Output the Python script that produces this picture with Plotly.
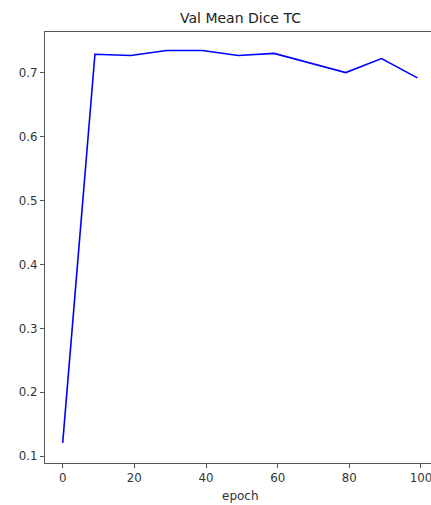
import plotly.graph_objects as go

# Validation mean Dice (TC) recorded every 10 epochs
epochs = [0, 9, 19, 29, 39, 49, 59, 69, 79, 89, 99]
dice_tc = [0.121, 0.7286, 0.7266, 0.7344, 0.7344, 0.7266, 0.7300, 0.7150, 0.7000, 0.7219, 0.6916]

x_ticks = [0, 20, 40, 60, 80, 100]
y_ticks = [0.1, 0.2, 0.3, 0.4, 0.5, 0.6, 0.7]

W, H = 431, 505
ML, MR, MT, MB = 45, 0, 32, 42
font = "DejaVu Sans"
axis_col = "#555555"
text_col = "#333333"

fig = go.Figure(
    go.Scatter(
        x=epochs, y=dice_tc, mode="lines",
        line=dict(color="#0000ff", width=1.6),
        hoverinfo="skip",
    )
)

fig.update_layout(
    width=W, height=H,
    margin=dict(l=ML, r=MR, t=MT, b=MB),
    paper_bgcolor="white", plot_bgcolor="white",
    showlegend=False,
    font=dict(family=font, size=12, color=text_col),
)

fig.update_xaxes(
    range=[-4.94, 102.8],
    tickvals=x_ticks, ticktext=[str(v) for v in x_ticks],
    showgrid=False, zeroline=False,
    showline=True, linecolor=axis_col, linewidth=1.2, mirror=True,
    ticks="outside", ticklen=4, tickcolor=axis_col, tickwidth=1,
    tickfont=dict(family=font, size=11.8, color=text_col),
    ticklabeloverflow="allow",
)
fig.update_yaxes(
    range=[0.0895, 0.7634],
    tickvals=y_ticks, ticktext=[f"{v:.1f}" for v in y_ticks],
    showgrid=False, zeroline=False,
    showline=True, linecolor=axis_col, linewidth=1.2, mirror=False,
    ticks="outside", ticklen=4, tickcolor=axis_col, tickwidth=1,
    tickfont=dict(family=font, size=11.8, color=text_col),
)

plot_w = W - ML - MR
title_x = (240 - ML) / plot_w

fig.add_annotation(
    text="Val Mean Dice TC", xref="paper", yref="paper",
    x=title_x, y=1, yshift=14, xanchor="center", yanchor="middle",
    showarrow=False, font=dict(family=font, size=14, color="#222222"),
)
fig.add_annotation(
    text="epoch", xref="paper", yref="paper",
    x=title_x, y=0, yshift=-33, xanchor="center", yanchor="middle",
    showarrow=False, font=dict(family=font, size=12, color=text_col),
)

fig.write_html("out.html")
